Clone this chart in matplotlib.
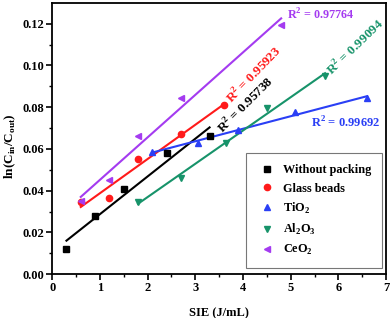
import numpy as np
import matplotlib
matplotlib.use('Agg')
import matplotlib.pyplot as plt

plt.rcParams['font.family'] = ['Liberation Serif', 'DejaVu Serif']
plt.rcParams['font.weight'] = 'bold'
plt.rcParams['mathtext.fontset'] = 'custom'
plt.rcParams['mathtext.rm'] = 'Liberation Serif:bold'
plt.rcParams['mathtext.bf'] = 'Liberation Serif:bold'

# data
x_none = [0.3, 0.9, 1.5, 2.4, 3.3]
y_none = [0.012, 0.028, 0.041, 0.058, 0.066]
x_glass = [0.6, 1.2, 1.8, 2.7, 3.6]
y_glass = [0.0346, 0.0365, 0.055, 0.067, 0.081]
x_tio2 = [2.1, 3.06, 3.9, 5.1, 6.6]
y_tio2 = [0.0586, 0.063, 0.069, 0.0778, 0.0845]
x_al2o3 = [1.8, 2.7, 3.65, 4.5, 5.72]
y_al2o3 = [0.0346, 0.046, 0.063, 0.0795, 0.095]
x_ceo2 = [0.6, 1.2, 1.8, 2.7, 4.8]
y_ceo2 = [0.035, 0.045, 0.066, 0.0845, 0.1195]

labels = ['Without packing', 'Glass beads', r'TiO$_2$', r'Al$_2$O$_3$', r'CeO$_2$']
r2 = ['0.95738', '0.95923', '0.99692', '0.99094', '0.97764']
colors = ['black', '#FF1A1A', '#2A3FF5', '#17936A', '#A43BF0']
markers = ['s', 'o', '^', 'v', '<']

series = [(x_none, y_none), (x_glass, y_glass), (x_tio2, y_tio2),
          (x_al2o3, y_al2o3), (x_ceo2, y_ceo2)]

fig = plt.figure(figsize=(3.92, 3.18), dpi=100)
ax = fig.add_axes([0.133, 0.138, 0.852, 0.853])

for (xs, ys), lab, c, m in zip(series, labels, colors, markers):
    xs = np.array(xs)
    ys = np.array(ys)
    k, b = np.polyfit(xs, ys, 1)
    xx = np.array([xs.min(), xs.max()])
    ax.plot(xx, k * xx + b, color=c, lw=1.5, zorder=2)
    ax.plot(xs, ys, ls='none', marker=m, color=c, ms=4.5, label=lab, zorder=3)

# R^2 annotations
ax.text(4.07, 0.0812, r'R$^2$ = ' + r2[0], color=colors[0], rotation=45,
        fontsize=9.5, fontweight='bold', ha='center', va='center')
ax.text(4.23, 0.0955, r'R$^2$ = ' + r2[1], color=colors[1], rotation=46,
        fontsize=9.5, fontweight='bold', ha='center', va='center')
ax.text(6.14, 0.0725, r'R$^2$ = ' + r2[2], color=colors[2],
        fontsize=9, fontweight='bold', ha='center', va='center')
ax.text(6.37, 0.1085, r'R$^2$ = ' + r2[3], color=colors[3], rotation=44,
        fontsize=9.5, fontweight='bold', ha='center', va='center')
ax.text(5.64, 0.1243, r'R$^2$ = ' + r2[4], color=colors[4],
        fontsize=8.7, fontweight='bold', ha='center', va='center')

ax.set_xlim(0, 7)
ax.set_ylim(0, 0.13)
ax.set_xticks(range(0, 8))
ax.set_xticks(np.arange(0.5, 7, 1.0), minor=True)
ax.set_yticks(np.arange(0, 0.121, 0.02))
ax.set_yticks(np.arange(0.01, 0.13, 0.02), minor=True)
ax.set_yticklabels(['%.2f' % v for v in np.arange(0, 0.121, 0.02)])
ax.tick_params(which='major', direction='out', length=4, width=1.2, labelsize=9, pad=2)
ax.tick_params(which='minor', direction='out', length=2, width=1.0)
for s in ax.spines.values():
    s.set_linewidth(1.3)

ax.set_xlabel('SIE (J/mL)', fontsize=9, fontweight='bold', labelpad=9)
ax.set_ylabel(r'ln(C$_{\rm in}$/C$_{\rm out}$)', fontsize=9.5, fontweight='bold')
ax.yaxis.set_label_coords(-0.103, 0.47)

leg = ax.legend(loc='lower right', bbox_to_anchor=(0.988, 0.022), borderaxespad=0,
                fontsize=8.8, frameon=True, fancybox=False, edgecolor='#555555',
                handletextpad=0.5, borderpad=0.9, labelspacing=0.5, handlelength=1.6)
leg.get_frame().set_linewidth(0.8)

fig.savefig('out.png', dpi=100)
